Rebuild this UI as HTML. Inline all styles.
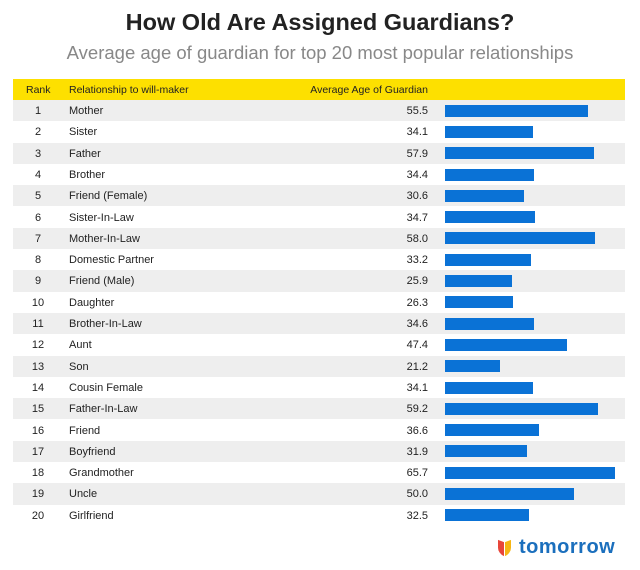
<!DOCTYPE html>
<html><head><meta charset="utf-8"><style>
body{margin:0;width:640px;height:570px;background:#fff;font-family:"Liberation Sans",sans-serif;position:relative;overflow:hidden}
.t{position:absolute;left:0;width:640px;text-align:center}
#h{position:absolute;left:13px;top:79px;width:612px;height:21px;background:#fde000;font-size:10.5px;color:#222}
.r{position:absolute;left:13px;width:612px;height:21.3px;font-size:11px;color:#222}
.c{position:absolute;top:1px;line-height:21.3px}
.b{position:absolute;left:432px;top:4.7px;height:12px;background:#0a72d6}
</style></head><body>
<div class="t" style="top:9px;font-size:23.5px;font-weight:bold;color:#222">How Old Are Assigned Guardians?</div>
<div class="t" style="top:42px;font-size:18.5px;color:#888">Average age of guardian for top 20 most popular relationships</div>
<div id="h"><span class="c" style="left:13px;line-height:21px">Rank</span><span class="c" style="left:56px;line-height:21px">Relationship to will-maker</span><span class="c" style="right:197px;line-height:21px">Average Age of Guardian</span></div>
<div id="rows"></div>
<div style="position:absolute;left:498px;top:541px;width:6px;height:14px;background:#e8463a;border-radius:0 0 0 7px;transform:skewY(20deg)"></div>
<div style="position:absolute;left:505px;top:541px;width:6px;height:14px;background:#f6b614;border-radius:0 0 7px 0;transform:skewY(-20deg)"></div>
<div style="position:absolute;left:519px;top:536px;font-size:20px;font-weight:bold;color:#1b6fbd;letter-spacing:0.5px">tomorrow</div>
<script>
var d=[["Mother",55.5],["Sister",34.1],["Father",57.9],["Brother",34.4],["Friend (Female)",30.6],["Sister-In-Law",34.7],["Mother-In-Law",58.0],["Domestic Partner",33.2],["Friend (Male)",25.9],["Daughter",26.3],["Brother-In-Law",34.6],["Aunt",47.4],["Son",21.2],["Cousin Female",34.1],["Father-In-Law",59.2],["Friend",36.6],["Boyfriend",31.9],["Grandmother",65.7],["Uncle",50.0],["Girlfriend",32.5]];
var h="";d.forEach(function(e,i){h+='<div class="r" style="top:'+(100+i*21.3)+'px;background:'+(i%2?'#fff':'#eeeeee')+'"><span class="c" style="left:0;width:50px;text-align:center">'+(i+1)+'</span><span class="c" style="left:56px">'+e[0]+'</span><span class="c" style="right:197px">'+e[1].toFixed(1)+'</span><div class="b" style="width:'+(e[1]*2.58)+'px"></div></div>'});
document.getElementById("rows").innerHTML=h;
</script>
</body></html>
